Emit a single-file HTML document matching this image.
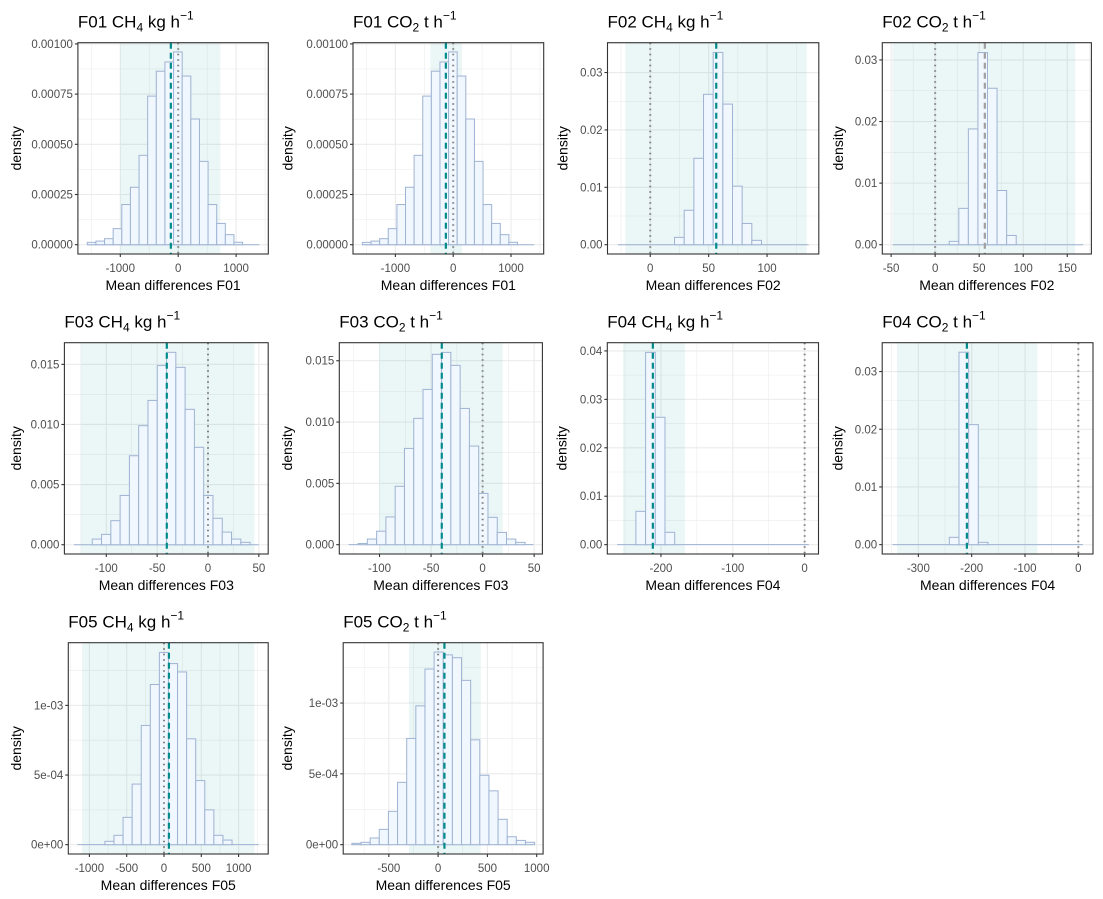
<!DOCTYPE html>
<html><head><meta charset="utf-8">
<style>
body{margin:0;background:#fff;}
svg{display:block;font-family:"Liberation Sans",Arial,sans-serif;}
</style></head>
<body>
<svg id="chart" width="1103" height="899" xmlns="http://www.w3.org/2000/svg"></svg>
<script>
// ---- data ----
const titles = ["F01","F01","F02","F02","F03","F03","F04","F04","F05","F05"];
const gasNames = ["CH","CO","CH","CO","CH","CO","CH","CO","CH","CO"];
const gasSubs = ["4","2","4","2","4","2","4","2","4","2"];
const unitNames = ["kg h","t h","kg h","t h","kg h","t h","kg h","t h","kg h","t h"];

const binStarts = [-1570,-1570,20.8,16,-113.8,-120.8,-234.9,-241.9,-792,-875];
const binWidths = [149,149,8.27,10.86,9.13,9.0,13.5,18.1,121.7,92.7];
const h1 = [0.0000116,0.000018,0.00003,0.00008,0.0002,0.000286,0.000445,0.00074,0.000864,0.00091,0.00096,0.00084,0.000626,0.000415,0.0002,0.000106,0.00005,0.000012];
const h2 = [0.0000116,0.000018,0.00003,0.00008,0.0002,0.000286,0.000445,0.00074,0.000864,0.00091,0.00096,0.00084,0.000626,0.000415,0.0002,0.000106,0.00005,0.000012];
const h3 = [0.00128,0.006,0.01506,0.0262,0.0335,0.0245,0.0102,0.0037,0.00076];
const h4 = [0.00054,0.0059,0.0188,0.0312,0.0254,0.0088,0.0015];
const h5 = [0.00047,0.00086,0.002,0.0041,0.0074,0.0099,0.012,0.0149,0.016,0.01475,0.01126,0.0081,0.0041,0.0022,0.00105,0.00047,0.0002];
const h6 = [0.0001,0.00046,0.0011,0.00226,0.00476,0.00785,0.0103,0.01266,0.01552,0.01568,0.01462,0.01111,0.00804,0.00418,0.00223,0.001,0.00046,0.00019];
const h7 = [0.00688,0.0397,0.0263,0.00255];
const h8 = [0.00127,0.03335,0.0208,0.0004];
const h9 = [0.000024,0.000067,0.000196,0.000435,0.000856,0.00115,0.00138,0.0013,0.00124,0.00076,0.00046,0.00025,0.000067,0.000033];
const h10 = [0.0000094,0.0000165,0.000047,0.000108,0.000235,0.00044,0.00075,0.00098,0.00124,0.00136,0.00134,0.00132,0.00116,0.00074,0.00049,0.00038,0.000179,0.000056,0.00003,0.0000165];
const heights = [h1,h2,h3,h4,h5,h6,h7,h8,h9,h10];

const baseStarts = [-1570,-1570,-27.8,-48.4,-131.8,-130,-261,-348.7,-1160,-875];
const baseEnds = [1400,1400,135.6,168,50,49.5,5.9,8.6,1269,979];
const shadeLo = [-1000,-394,-21.4,-48.4,-124.9,-100,-253,-340,-1099,-296];
const shadeHi = [727,152,134,159,45.7,19.5,-166.6,-77,1212,432];
const meanVals = [-127,-127,56.5,56.4,-40.5,-39.6,-211.3,-209,66,64];
const meanColors = ["#008b8b","#008b8b","#008b8b","#a0a0a0","#008b8b","#008b8b","#008b8b","#008b8b","#008b8b","#008b8b"];

const xDomLo = [-1732,-1733,-36.6,-60,-141.2,-139,-274.7,-367.8,-1283,-963];
const xDomHi = [1556,1565,144.3,177.4,59.2,58,19.3,27.5,1397,1065];
const yDomLo = [-0.0000463,-0.0000463,-0.00162,-0.00151,-0.00077,-0.00076,-0.00193,-0.00162,-0.000067,-0.000066];
const yDomHi = [0.001006,0.001006,0.0352,0.0328,0.0168,0.01647,0.0417,0.035,0.00145,0.001426];

const xTicks = [[-1000,0,1000],[-1000,0,1000],[0,50,100],[-50,0,50,100,150],[-100,-50,0,50],[-100,-50,0,50],[-200,-100,0],[-300,-200,-100,0],[-1000,-500,0,500,1000],[-500,0,500,1000]];
const xTickLabels = [["-1000","0","1000"],["-1000","0","1000"],["0","50","100"],["-50","0","50","100","150"],["-100","-50","0","50"],["-100","-50","0","50"],["-200","-100","0"],["-300","-200","-100","0"],["-1000","-500","0","500","1000"],["-500","0","500","1000"]];
const yTicks = [[0,0.00025,0.0005,0.00075,0.001],[0,0.00025,0.0005,0.00075,0.001],[0,0.01,0.02,0.03],[0,0.01,0.02,0.03],[0,0.005,0.01,0.015],[0,0.005,0.01,0.015],[0,0.01,0.02,0.03,0.04],[0,0.01,0.02,0.03],[0,0.0005,0.001],[0,0.0005,0.001]];
const yTickLabels = [["0.00000","0.00025","0.00050","0.00075","0.00100"],["0.00000","0.00025","0.00050","0.00075","0.00100"],["0.00","0.01","0.02","0.03"],["0.00","0.01","0.02","0.03"],["0.000","0.005","0.010","0.015"],["0.000","0.005","0.010","0.015"],["0.00","0.01","0.02","0.03","0.04"],["0.00","0.01","0.02","0.03"],["0e+00","5e-04","1e-03"],["0e+00","5e-04","1e-03"]];

// ---- layout ----
const panelLeft = [77.9,353,607.5,882.3,64.4,339.3,607.3,882.2,68.3,343.2];
const panelRight = [268.3,543.7,818.8,1091.4,268.2,542.4,818.5,1093,268.2,543.1];
const rowTop = [42.7,342.7,642.7];
const rowBottom = [254,554,854];

const NS = "http://www.w3.org/2000/svg";
const svg = document.getElementById("chart");
function mk(tag, attrs, parent){
  const e = document.createElementNS(NS, tag);
  for (const k in attrs) e.setAttribute(k, attrs[k]);
  (parent||svg).appendChild(e);
  return e;
}

for (let p = 0; p < 10; p++){
  const row = Math.floor(p/4);
  const L = panelLeft[p], R = panelRight[p], T = rowTop[row], B = rowBottom[row];
  const xs = v => L + (v - xDomLo[p]) / (xDomHi[p] - xDomLo[p]) * (R - L);
  const ys = v => B - (v - yDomLo[p]) / (yDomHi[p] - yDomLo[p]) * (B - T);
  const g = mk("g", {});
  
  

  // grid
  const xt = xTicks[p], yt = yTicks[p];
  const xstep = xt[1]-xt[0], ystep = yt[1]-yt[0];
  for (let v = xt[0]-xstep/2; v <= xDomHi[p]; v += xstep/2){
    if (v < xDomLo[p]) continue;
    const major = xt.some(t => Math.abs(t-v) < xstep*1e-6);
    const ln = mk("line", {x1:xs(v),x2:xs(v),y1:T,y2:B,stroke:"#ebebeb","stroke-width":major?1.1:0.55}, g);
    
    
  }
  for (let v = yt[0]-ystep/2; v <= yDomHi[p]; v += ystep/2){
    if (v < yDomLo[p]) continue;
    const major = yt.some(t => Math.abs(t-v) < ystep*1e-6);
    const ln = mk("line", {x1:L,x2:R,y1:ys(v),y2:ys(v),stroke:"#ebebeb","stroke-width":major?1.1:0.55}, g);
    
    
  }
  // shaded interval
  const sh = mk("rect", {x:xs(shadeLo[p]),y:T+0.5,width:xs(shadeHi[p])-xs(shadeLo[p]),height:B-T-1,fill:"#008b8b","fill-opacity":0.08}, g);
  
  
  // baseline
  const bl = mk("line", {x1:xs(baseStarts[p]),x2:xs(baseEnds[p]),y1:ys(0),y2:ys(0),stroke:"#9fb3d3","stroke-width":1}, g);
  
  
  // bars
  heights[p].forEach((h, i) => {
    const x0 = xs(binStarts[p] + i*binWidths[p]), x1 = xs(binStarts[p] + (i+1)*binWidths[p]);
    const r = mk("rect", {x:x0,y:ys(h),width:x1-x0,height:ys(0)-ys(h),fill:"#f0f7fe",stroke:"#9fb3d3","stroke-width":1}, g);
    
    
  });
  // zero line (dotted)
  const zl = mk("line", {x1:xs(0),x2:xs(0),y1:T,y2:B,stroke:"#7f7f7f","stroke-width":2,"stroke-dasharray":"1.5 4"}, g);
  
  
  // mean line (dashed)
  const ml = mk("line", {x1:xs(meanVals[p]),x2:xs(meanVals[p]),y1:T,y2:B,stroke:meanColors[p],"stroke-width":2.2,"stroke-dasharray":"6 4"}, g);
  
  
  // border
  const bd = mk("rect", {x:L,y:T,width:R-L,height:B-T,fill:"none",stroke:"#333333","stroke-width":1.1}, g);
  
  

  // ticks
  xt.forEach((v, i) => {
    const tk = mk("line", {x1:xs(v),x2:xs(v),y1:B,y2:B+3,stroke:"#333","stroke-width":1.1}, g);
    
    
    const tl = mk("text", {x:xs(v),y:B+18,"text-anchor":"middle","font-size":"11.5px",fill:"#4d4d4d"}, g);
    tl.textContent = xTickLabels[p][i];
    
    
  });
  yt.forEach((v, i) => {
    const tk = mk("line", {x1:L-3,x2:L,y1:ys(v),y2:ys(v),stroke:"#333","stroke-width":1.1}, g);
    
    
    const tl = mk("text", {x:L-5,y:ys(v)+4,"text-anchor":"end","font-size":"11.5px",fill:"#4d4d4d"}, g);
    tl.textContent = yTickLabels[p][i];
    
    
  });
  // axis titles
  const xa = mk("text", {x:(L+R)/2,y:B+36,"text-anchor":"middle","font-size":"14px",fill:"#000"}, g);
  xa.textContent = "Mean differences " + titles[p];
  
  
  const yx = (p%4===0) ? 21 : panelLeft[p-1] + (panelRight[p-1]-panelLeft[p-1]) + (p%4===2||p%4===3 ? 0 : 0);
  const yaX = (p%4===0) ? 21 : panelRight[p-1] + ((L - panelRight[p-1]) - (L - panelRight[p-1])) + 24;
  const ya = mk("text", {x:yaX,y:(T+B)/2,"text-anchor":"middle","font-size":"14px",fill:"#000",transform:"rotate(-90 "+yaX+" "+((T+B)/2)+")"}, g);
  ya.textContent = "density";
  
  
  // panel title
  const tt = mk("text", {x:L,y:T-15,"font-size":"17px",fill:"#000"}, g);
  
  
  const s1 = mk("tspan", {}, tt); s1.textContent = titles[p] + " " + gasNames[p];
  const s2 = mk("tspan", {dy:4,"font-size":"12px"}, tt); s2.textContent = gasSubs[p];
  const s3 = mk("tspan", {dy:-4}, tt); s3.textContent = " " + unitNames[p];
  const s4 = mk("tspan", {dy:-8,"font-size":"12px"}, tt); s4.textContent = "\u22121";
}
</script>
</body></html>
